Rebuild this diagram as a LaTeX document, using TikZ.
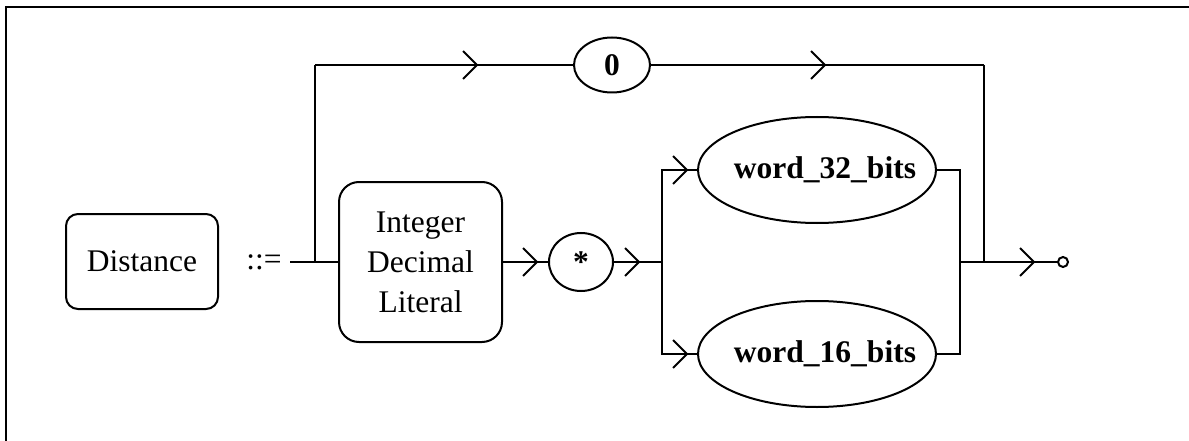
\documentclass[tikz,border=0pt]{standalone}
\usepackage{fontspec}
\setmainfont{Liberation Serif}
\usetikzlibrary{shapes.geometric,decorations.markings}
\tikzset{
  conn/.style={line width=2pt},
  chev/.style={postaction={decorate},decoration={markings,
     mark=at position #1 with {\draw[line width=2pt] (-14pt,-14pt) -- (0pt,0pt) -- (-14pt,14pt);}}},
  rbox/.style={draw, line width=2pt, rectangle, rounded corners=#1, inner sep=0pt, align=center,
     font=\fontsize{31.5}{40}\selectfont},
  oval/.style={draw, line width=2pt, ellipse, inner sep=0pt,
     font=\bfseries\fontsize{31.5}{38}\selectfont},
  lbl/.style={font=\fontsize{31.5}{38}\selectfont, inner sep=0pt}
}
\begin{document}
\begin{tikzpicture}[x=1pt,y=-1pt]
\useasboundingbox (0,0) rectangle (1189,441);
\clip (0,0) rectangle (1189,441);
% frame
\draw[line width=2.5pt] (6,460) -- (6,7) -- (1200,7);
% nodes
\node[rbox=12pt, minimum width=152pt, minimum height=95pt] (dist) at (142,261.5) {Distance};
\node[lbl] (assign) at (264,262) {::=};
\node[rbox=20pt, minimum width=163pt, minimum height=160pt] (idl) at (420.5,262) {Integer\\Decimal\\Literal};
\node[oval, minimum width=64pt, minimum height=58pt] (star) at (581,262) {*};
\node[oval, minimum width=76pt, minimum height=55pt] (zero) at (612,65) {0};
\node[oval, minimum width=238pt, minimum height=106pt,
      label={[font=\bfseries\fontsize{31.5}{38}\selectfont, xshift=8pt]center:word\_32\_bits}] (w32) at (817,170) {};
\node[oval, minimum width=238pt, minimum height=106pt,
      label={[font=\bfseries\fontsize{31.5}{38}\selectfont, xshift=8pt]center:word\_16\_bits}] (w16) at (817,354) {};
\node[draw, circle, line width=2pt, minimum size=10pt, inner sep=0pt] (endc) at (1063,262) {};
% coordinates
\coordinate (start) at (290,262);
\coordinate (jl) at (315,262);
\coordinate (tl) at (315,65);
\coordinate (tr) at (984,65);
\coordinate (jr) at (984,262);
\coordinate (split) at (662,262);
\coordinate (merge) at (960,262);
% connectors
\draw[conn] (start) -- (idl.west);
\draw[conn] (jl) -- (tl);
\draw[conn, chev=162pt] (tl) -- (zero.west);
\draw[conn, chev=174pt] (zero.east) -- (tr);
\draw[conn] (tr) -- (jr);
\draw[conn, chev=-11pt] (idl.east) -- (star.west);
\draw[conn, chev=25pt] (star.east) -- (split);
\draw[conn, chev=-10pt] (split) |- (w32.west);
\draw[conn, chev=-10pt] (split) |- (w16.west);
\draw[conn] (w32.east) -| (merge);
\draw[conn] (w16.east) -| (merge);
\draw[conn, chev=-23pt] (merge) -- (endc.west);
\end{tikzpicture}
\end{document}
